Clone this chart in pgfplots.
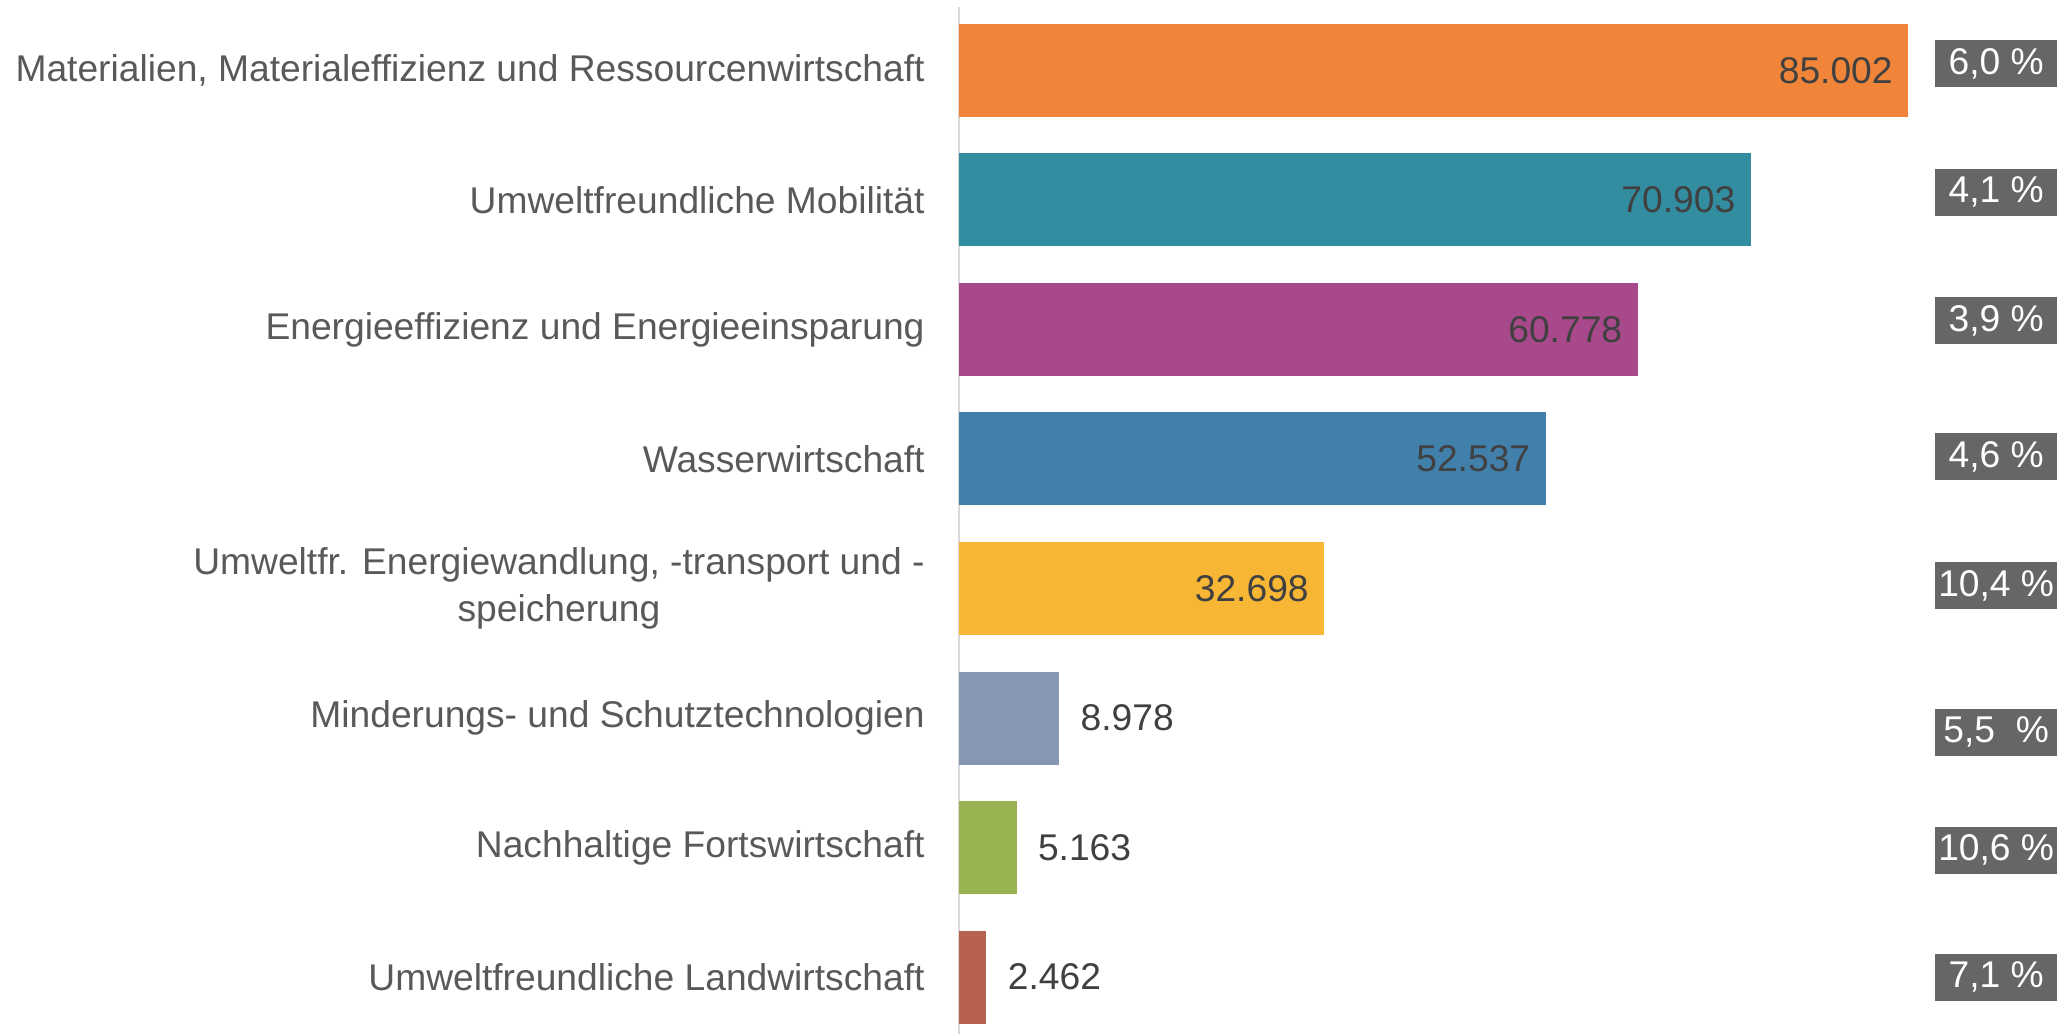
\documentclass[border=0pt]{standalone}
\usepackage{pgfplots}
\pgfplotsset{compat=1.18}
\usepackage{fontspec}
\setmainfont{Liberation Sans}
\definecolor{cOrange}{HTML}{F0853A}
\definecolor{cTeal}{HTML}{338DA0}
\definecolor{cPurple}{HTML}{A7498A}
\definecolor{cBlue}{HTML}{4280AC}
\definecolor{cYellow}{HTML}{F7B633}
\definecolor{cGreyBlue}{HTML}{8597B3}
\definecolor{cGreen}{HTML}{97B251}
\definecolor{cRed}{HTML}{B6624F}
\definecolor{labelgray}{HTML}{595959}
\definecolor{valgray}{HTML}{404040}
\definecolor{boxgray}{HTML}{666666}
\newcommand{\lblfont}{\fontsize{18.6}{23.5}\selectfont}
\pgfplotsset{
  barin/.style={xbar, bar width=46.5pt, bar shift=0pt, draw=none, fill=#1,
    point meta=x, nodes near coords,
    every node near coord/.style={anchor=east, xshift=-7.5pt, inner sep=0pt, text=valgray, font=\lblfont}},
  barout/.style={xbar, bar width=46.5pt, bar shift=0pt, draw=none, fill=#1,
    point meta=x, nodes near coords,
    every node near coord/.style={anchor=west, xshift=10.5pt, inner sep=0pt, text=valgray, font=\lblfont}},
}
\begin{document}
\begin{tikzpicture}
\useasboundingbox (0,0) rectangle (1033.5pt,517pt);
\begin{axis}[
  at={(479.5pt,0pt)}, anchor=south west,
  scale only axis, width=546.5pt, height=513.5pt,
  xmin=0, xmax=97900,
  ymin=-0.49, ymax=7.44, y dir=reverse,
  axis x line=none,
  axis y line*=left,
  y axis line style={draw=black!15, line width=0.8pt},
  ytick={0,...,7},
  yticklabels={
    {Materialien, Materialeffizienz und Ressourcenwirtschaft},
    {Umweltfreundliche Mobilität},
    {Energieeffizienz und Energieeinsparung},
    {Wasserwirtschaft},
    {Umweltfr. Energiewandlung, -transport und -\\speicherung},
    {Minderungs- und Schutztechnologien},
    {Nachhaltige Fortswirtschaft},
    {Umweltfreundliche Landwirtschaft}},
  yticklabel style={inner sep=0pt, xshift=-17pt, align=center, text=labelgray, font=\lblfont},
  major tick length=0pt,
  ytick style={draw=none},
  clip=false,
  /pgf/number format/.cd, fixed, precision=0, 1000 sep={.}, assume math mode=true,
]
\addplot[barin=cOrange] coordinates {(85002,0)};
\addplot[barin=cTeal] coordinates {(70903,1)};
\addplot[barin=cPurple] coordinates {(60778,2)};
\addplot[barin=cBlue] coordinates {(52537,3)};
\addplot[barin=cYellow] coordinates {(32698,4)};
\addplot[barout=cGreyBlue] coordinates {(8978,5)};
\addplot[barout=cGreen] coordinates {(5163,6)};
\addplot[barout=cRed] coordinates {(2462,7)};
% growth rates shown in boxes
\addplot[only marks, mark=none, point meta=explicit symbolic, nodes near coords,
  every node near coord/.style={anchor=center, fill=boxgray, text=white, font=\lblfont,
    minimum width=61pt, minimum height=23.5pt, inner sep=0pt}]
  coordinates {
    (92900,-0.05) [6,0 \%]
    (92900,0.94) [4,1 \%]
    (92900,1.93) [3,9 \%]
    (92900,2.98) [4,6 \%]
    (92900,3.98) [10,4 \%]
    (92900,5.11) [5,5~\ \%]
    (92900,6.02) [10,6 \%]
    (92900,7.0) [7,1 \%]
  };
\end{axis}
\end{tikzpicture}
\end{document}
